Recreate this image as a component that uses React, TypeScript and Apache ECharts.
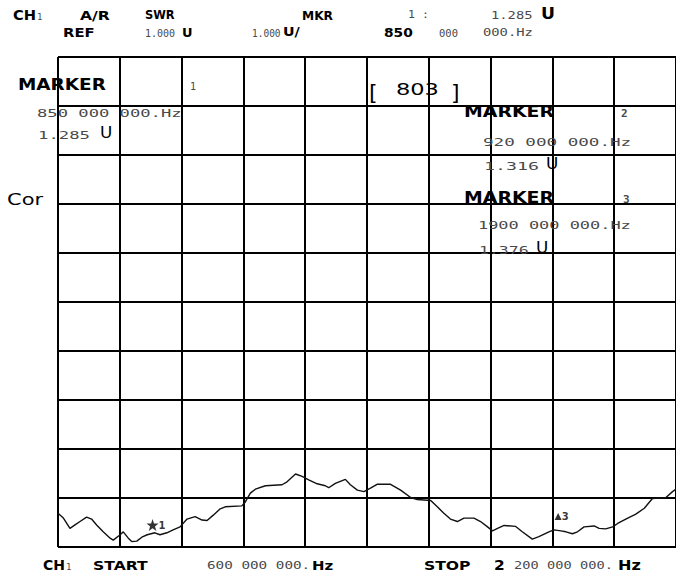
import React, { useEffect, useRef } from "react";
import * as echarts from "echarts";

// Trace: frequency (MHz) and SWR values
const freqMHz = [600, 614, 631, 644, 657, 674, 687, 700, 717, 735, 743, 761, 769, 782, 791, 804, 817, 831, 851, 864, 882, 898, 916, 934, 955, 973, 986, 1002, 1020, 1033, 1076, 1085, 1098, 1111, 1137, 1180, 1193, 1215, 1232, 1249, 1271, 1292, 1301, 1318, 1344, 1357, 1375, 1392, 1409, 1426, 1461, 1487, 1513, 1530, 1565, 1582, 1599, 1616, 1634, 1651, 1677, 1694, 1712, 1725, 1738, 1755, 1785, 1802, 1828, 1845, 1871, 1884, 1902, 1915, 1932, 1945, 1962, 1988, 2001, 2018, 2036, 2049, 2070, 2096, 2118, 2139, 2174, 2191, 2200];
const swr = [1.69, 1.59, 1.38, 1.45, 1.52, 1.61, 1.57, 1.45, 1.31, 1.18, 1.14, 1.25, 1.31, 1.18, 1.11, 1.12, 1.2, 1.25, 1.29, 1.25, 1.29, 1.35, 1.41, 1.57, 1.62, 1.55, 1.54, 1.65, 1.78, 1.82, 1.84, 1.92, 2.1, 2.18, 2.25, 2.27, 2.33, 2.49, 2.44, 2.37, 2.29, 2.25, 2.21, 2.3, 2.38, 2.27, 2.16, 2.13, 2.2, 2.28, 2.28, 2.16, 2.01, 1.97, 1.95, 1.82, 1.69, 1.57, 1.52, 1.59, 1.59, 1.52, 1.41, 1.33, 1.38, 1.44, 1.42, 1.31, 1.16, 1.21, 1.31, 1.35, 1.33, 1.31, 1.27, 1.31, 1.41, 1.43, 1.38, 1.37, 1.41, 1.48, 1.57, 1.67, 1.79, 1.99, 2.01, 2.13, 2.18];

// Markers
const markerIds = ["1", "2", "3"];
const markerFreqMHz = [850, 920, 1900];
const markerSwr = [1.285, 1.316, 1.376];
const drawnMarkers = [0, 2];

// Axes
const startMHz = 600;
const stopMHz = 2200;
const refValue = 1.0;
const perDiv = 1.0;
const divisions = 10;
const sweepPoints = "803";

const BOLD = '"DejaVu Sans"';
const MONO = '"DejaVu Sans Mono"';

function T(text: string, x: number, y: number, font: string, scaleX = 1, fill = "#000") {
  return {
    type: "text",
    x,
    y,
    scaleX,
    z: 100,
    silent: true,
    style: {
      text,
      font,
      fill,
      align: "left",
      verticalAlign: "middle",
      textAlign: "left",
      textVerticalAlign: "middle",
    },
  };
}

// groups of three digits; a leading group of 4+ digits is kept whole (e.g. "1900 000 000")
function hzGroups(mhz: number) {
  const hz = Math.round(mhz * 1e6).toString();
  const tail = hz.slice(-6);
  const head = hz.slice(0, -6);
  return [head, tail.slice(0, 3), tail.slice(3)];
}

const NUM = "#4a4a4a";

export default function App() {
  const ref = useRef<HTMLDivElement>(null);
  useEffect(() => {
    if (!ref.current) return;
    const chart = echarts.init(ref.current, null, { renderer: "svg" });
    const m1 = 0, m2 = 1, m3 = 2;
    const startG = hzGroups(startMHz);
    const stopG = hzGroups(stopMHz);
    const stopHead = stopG[0];
    const graphics = [
      // header row 1
      T("CH", 13, 15, `bold 14px ${BOLD}`, 1.05),
      T("1", 37, 17, `9px ${MONO}`, 1, NUM),
      T("A/R", 80, 15, `bold 13px ${BOLD}`, 1.2),
      T("SWR", 145, 15, `bold 13px ${BOLD}`, 0.88),
      T("MKR", 302, 15, `bold 13px ${BOLD}`, 0.94),
      T(markerIds[m1] + " :", 408, 15, `11px ${MONO}`, 1.05, NUM),
      T(markerSwr[m1].toFixed(3), 491, 16, `10px ${MONO}`, 1.38, NUM),
      T("U", 541, 14, `bold 15px ${BOLD}`, 1.15),
      // header row 2
      T("REF", 63, 32, `bold 13px ${BOLD}`, 1.14),
      T(refValue.toFixed(3), 145, 33, `10px ${MONO}`, 1.0, NUM),
      T("U", 182, 32, `bold 13px ${BOLD}`, 1.0),
      T(perDiv.toFixed(3), 252, 33, `10px ${MONO}`, 0.95, NUM),
      T("U/", 283, 31, `bold 13px ${BOLD}`, 1.1),
      T(hzGroups(markerFreqMHz[m1])[0], 384, 33, `bold 12px ${BOLD}`, 1.15),
      T(hzGroups(markerFreqMHz[m1])[1], 439, 33, `10px ${MONO}`, 1.05, NUM),
      T(hzGroups(markerFreqMHz[m1])[2] + ".Hz", 483, 33, `10px ${MONO}`, 1.38, NUM),
      // marker 1 block
      T("MARKER", 18, 85, `bold 15px ${BOLD}`, 1.23),
      T(markerIds[m1], 190, 86, `10px ${MONO}`, 1, NUM),
      T(hzGroups(markerFreqMHz[m1]).join(" ") + ".Hz", 37, 113, `11px ${MONO}`, 1.56, NUM),
      T(markerSwr[m1].toFixed(3), 38, 135, `11px ${MONO}`, 1.57, NUM),
      T("U", 100, 133, `16px ${BOLD}`, 1.05),
      T("Cor", 7, 200, `15px ${BOLD}`, 1.4),
      // sweep points
      T("[", 369, 92, `22px ${BOLD}`, 1),
      T(sweepPoints, 396, 90, `15px ${BOLD}`, 1.5),
      T("]", 451, 92, `22px ${BOLD}`, 1),
      // marker 2 block
      T("MARKER", 464, 112, `bold 15px ${BOLD}`, 1.26),
      T(markerIds[m2], 621, 113, `bold 11px ${MONO}`, 1, NUM),
      T(hzGroups(markerFreqMHz[m2]).join(" ") + ".Hz", 483, 142, `11px ${MONO}`, 1.6, NUM),
      T(markerSwr[m2].toFixed(3), 484, 166, `11px ${MONO}`, 1.66, NUM),
      T("U", 546, 164, `16px ${BOLD}`, 1.05),
      // marker 3 block
      T("MARKER", 464, 198, `bold 15px ${BOLD}`, 1.26),
      T(markerIds[m3], 623, 199, `bold 11px ${MONO}`, 1, NUM),
      T(hzGroups(markerFreqMHz[m3]).join(" ") + ".Hz", 478, 225, `11px ${MONO}`, 1.54, NUM),
      T(markerSwr[m3].toFixed(3), 479, 250, `11px ${MONO}`, 1.5, NUM),
      T("U", 536, 248, `16px ${BOLD}`, 1.05),
      // bottom row
      T("CH", 43, 565, `bold 14px ${BOLD}`, 1.0),
      T("1", 66, 567, `9px ${MONO}`, 1, NUM),
      T("START", 93, 565, `bold 13px ${BOLD}`, 1.2),
      T(startG.join(" ") + ".", 207, 566, `10px ${MONO}`, 1.43, NUM),
      T("Hz", 312, 565, `bold 13px ${BOLD}`, 1.15),
      T("STOP", 424, 565, `bold 13px ${BOLD}`, 1.2),
      T(stopHead.slice(0, 1), 494, 565, `bold 14px ${BOLD}`, 1.1),
      T(stopHead.slice(1) + " " + stopG[1] + " " + stopG[2] + ".", 514, 566, `10px ${MONO}`, 1.37, NUM),
      T("Hz", 618, 565, `bold 14px ${BOLD}`, 1.15),
    ];

    const trace = freqMHz.map((f, i) => [f, swr[i]]);
    const markers = drawnMarkers.map((i) => ({
      value: [markerFreqMHz[i], markerSwr[i]],
      name: markerIds[i],
      symbol:
        i === 0
          ? "path://M5,0 L6.2,3.8 L10,3.8 L7,6.2 L8.2,10 L5,7.6 L1.8,10 L3,6.2 L0,3.8 L3.8,3.8 Z"
          : "path://M0,10 L5,0 L10,10 Z",
      symbolSize: i === 0 ? 12 : 7,
      symbolOffset: i === 0 ? [-2, -8] : [-2, -12],
    }));

    chart.setOption({
      animation: false,
      backgroundColor: "#fff",
      grid: { left: 58, top: 57, width: 618, height: 490, show: false },
      xAxis: [
        { type: "value", min: startMHz, max: stopMHz, show: false },
        {
          type: "value",
          min: 0,
          max: divisions,
          interval: 1,
          axisLabel: { show: false },
          axisTick: { show: false },
          axisLine: { show: false },
          splitLine: { show: true, lineStyle: { color: "#000", width: 2 } },
        },
      ],
      yAxis: {
        type: "value",
        min: refValue,
        max: refValue + perDiv * divisions,
        interval: perDiv,
        axisLabel: { show: false },
        axisTick: { show: false },
        axisLine: { show: false },
        splitLine: { show: true, lineStyle: { color: "#000", width: 2 } },
      },
      series: [
        {
          type: "line",
          xAxisIndex: 0,
          data: trace,
          showSymbol: false,
          symbol: "none",
          lineStyle: { color: "#111", width: 1.4 },
          z: 5,
        },
        {
          type: "scatter",
          xAxisIndex: 0,
          data: markers,
          itemStyle: { color: "#000" },
          label: {
            show: true,
            position: "right",
            formatter: (p: any) => p.name,
            fontSize: 10,
            fontWeight: "bold",
            fontFamily: "DejaVu Sans",
            color: "#000",
            distance: 0,
          },
          z: 6,
        },
      ],
      graphic: graphics,
    });
    return () => chart.dispose();
  }, []);
  return (
    <div
      ref={ref}
      style={{ position: "fixed", left: 0, top: 0, width: 676, height: 577, background: "#fff" }}
    />
  );
}
